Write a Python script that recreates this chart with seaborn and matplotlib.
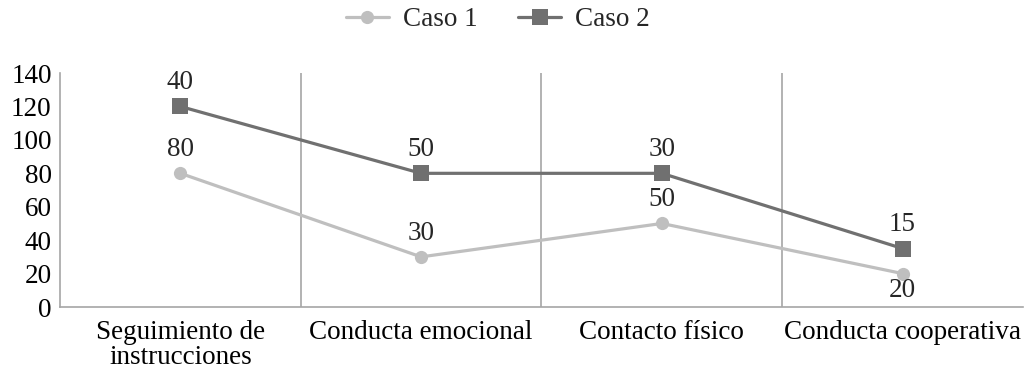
import matplotlib
matplotlib.use("Agg")
import matplotlib.pyplot as plt
import seaborn as sns
import numpy as np
import pandas as pd
from matplotlib.lines import Line2D

# data (stacked lines, labels show raw values)
categories = ["Seguimiento de\ninstrucciones", "Conducta emocional",
              "Contacto físico", "Conducta cooperativa"]
caso1 = [80, 30, 50, 20]
caso2 = [40, 50, 30, 15]
series_names = ["Caso 1", "Caso 2"]
yticks = [0, 20, 40, 60, 80, 100, 120, 140]

c1_color = "#BFBFBF"
c2_color = "#707070"
grid_color = "#A6A6A6"
fs = 19.5

sns.set_theme(style="white")
plt.rcParams["font.family"] = ["Liberation Serif", "DejaVu Serif"]
plt.rcParams["font.size"] = fs

stack1 = np.array(caso1)
stack2 = stack1 + np.array(caso2)

df = pd.DataFrame({
    "x": list(range(len(categories))) * 2,
    "y": list(stack1) + list(stack2),
    "label": caso1 + caso2,
    "serie": [series_names[0]] * len(categories) + [series_names[1]] * len(categories),
})

fig = plt.figure(figsize=(10.24, 3.69), dpi=100)
ax = fig.add_axes([0.0586, 0.168, 0.9404, 0.634])

sns.lineplot(data=df[df.serie == "Caso 1"], x="x", y="y", ax=ax, color=c1_color,
             linewidth=2.3, marker="o", markersize=9.5, markeredgewidth=0, zorder=3)
sns.lineplot(data=df[df.serie == "Caso 2"], x="x", y="y", ax=ax, color=c2_color,
             linewidth=2.3, marker="s", markersize=11, markeredgewidth=0, zorder=4)

# data labels
for i, row in df.iterrows():
    if row.serie == "Caso 1" and row.x == len(categories) - 1:
        ax.annotate(str(row.label), (row.x, row.y), xytext=(0, -3),
                    textcoords="offset points", ha="center", va="top", fontsize=fs)
    else:
        ax.annotate(str(row.label), (row.x, row.y), xytext=(0, 8),
                    textcoords="offset points", ha="center", va="bottom", fontsize=fs)

ax.set_xlim(-0.5, len(categories) - 0.5)
ax.set_ylim(0, 140)
ax.set_yticks(yticks)
ax.set_xticks(range(len(categories)))
ax.set_xticklabels(categories, linespacing=1.0)
ax.set_xlabel("")
ax.set_ylabel("")
ax.tick_params(axis="both", length=0, labelsize=fs, colors="black")
ax.tick_params(axis="x", pad=9)
ax.tick_params(axis="y", pad=6)

for b in np.arange(0.5, len(categories) - 0.5, 1.0):
    ax.axvline(b, color=grid_color, linewidth=1.2, zorder=1)

for s in ["top", "right"]:
    ax.spines[s].set_visible(False)
ax.spines["left"].set_color(grid_color)
ax.spines["left"].set_linewidth(1.2)
ax.spines["bottom"].set_color(grid_color)
ax.spines["bottom"].set_linewidth(1.2)

handles = [
    Line2D([], [], color=c1_color, linewidth=2.3, marker="o", markersize=9.5, markeredgewidth=0),
    Line2D([], [], color=c2_color, linewidth=2.3, marker="s", markersize=11, markeredgewidth=0),
]
fig.legend(handles, series_names, loc="center", bbox_to_anchor=(0.486, 0.946), ncol=2,
           frameon=False, fontsize=fs, handlelength=1.6, handletextpad=0.5,
           columnspacing=1.5)

fig.savefig("out.png", dpi=100, facecolor="white")
